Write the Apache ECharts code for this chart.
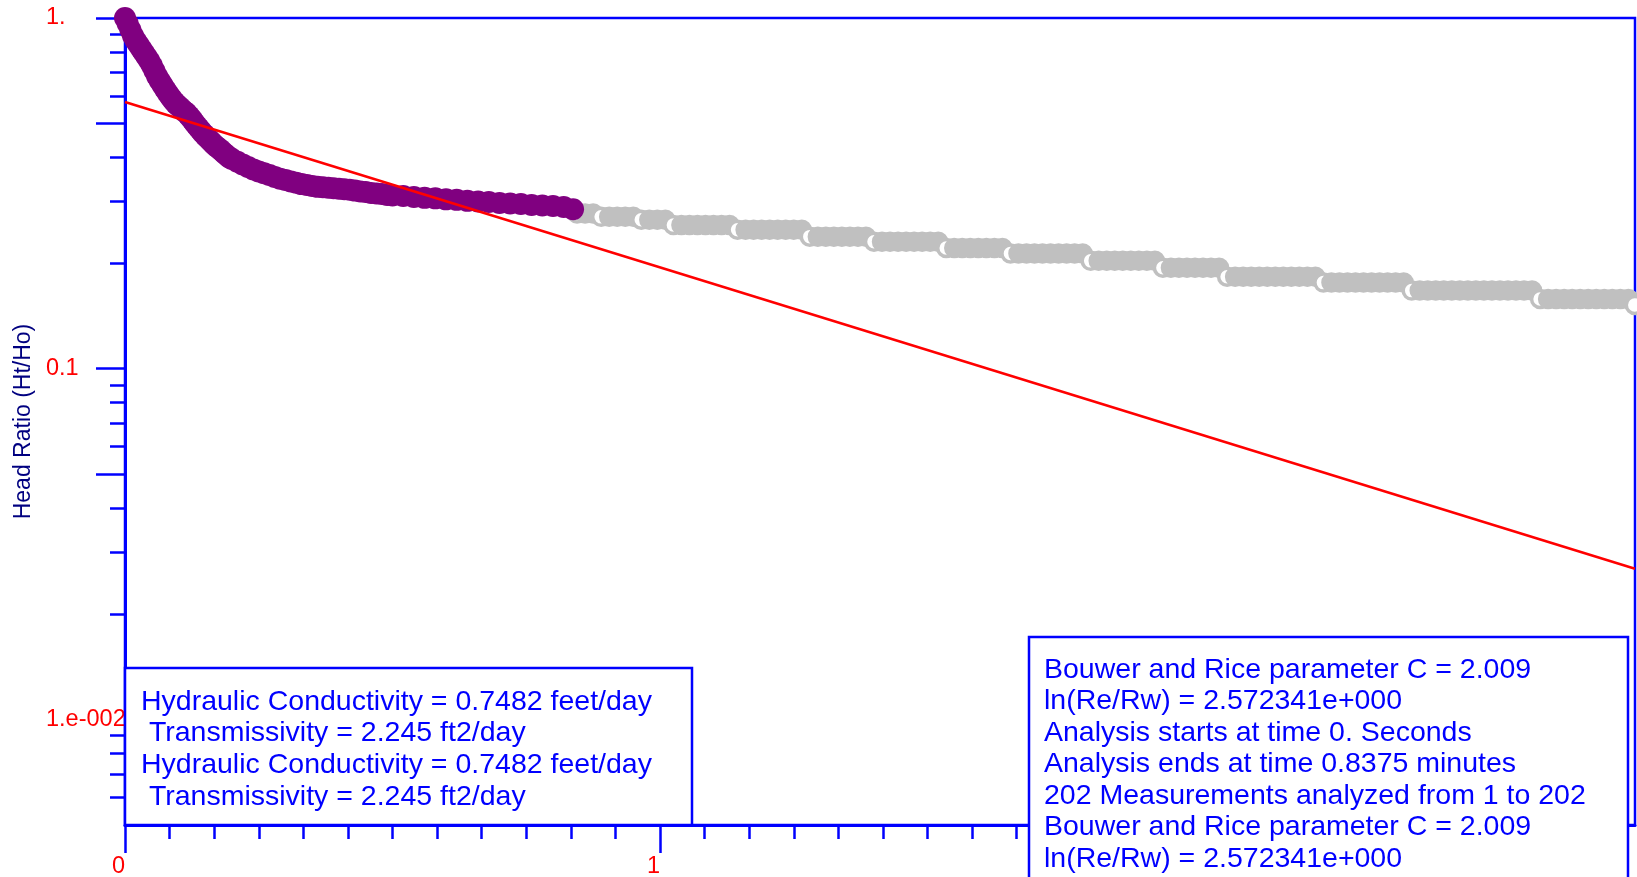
<!DOCTYPE html>
<html>
<head>
<meta charset="utf-8">
<script src="https://cdn.jsdelivr.net/npm/echarts@6/dist/echarts.min.js"></script>
<style>
  html, body { margin: 0; padding: 0; background: #fff; }
  #chart { width: 1637px; height: 877px; }
</style>
</head>
<body>
<div id="chart"></div>
<script>
// measured head ratio, time in minutes
const analyzedPoints = [
  [0.000, 1.000], [0.005, 0.965], [0.010, 0.925], [0.015, 0.890], [0.020, 0.862],
  [0.025, 0.840], [0.030, 0.818], [0.035, 0.797], [0.040, 0.777], [0.045, 0.756],
  [0.050, 0.733], [0.055, 0.707], [0.060, 0.682], [0.065, 0.662], [0.070, 0.644],
  [0.075, 0.626], [0.080, 0.610], [0.085, 0.595], [0.090, 0.582], [0.095, 0.570],
  [0.100, 0.561], [0.105, 0.552], [0.110, 0.543], [0.115, 0.536], [0.120, 0.525],
  [0.125, 0.514], [0.130, 0.502], [0.135, 0.491], [0.140, 0.481], [0.145, 0.471],
  [0.150, 0.462], [0.155, 0.454], [0.160, 0.446], [0.165, 0.438], [0.170, 0.431],
  [0.175, 0.425], [0.180, 0.419], [0.185, 0.412], [0.190, 0.406], [0.195, 0.400],
  [0.200, 0.396], [0.210, 0.389], [0.220, 0.382], [0.230, 0.376], [0.240, 0.370],
  [0.250, 0.365], [0.260, 0.361], [0.270, 0.357], [0.280, 0.352], [0.290, 0.348],
  [0.300, 0.345], [0.310, 0.342], [0.320, 0.339], [0.330, 0.336], [0.340, 0.334],
  [0.350, 0.332], [0.360, 0.330], [0.370, 0.329], [0.380, 0.328], [0.390, 0.327],
  [0.400, 0.326], [0.410, 0.325], [0.420, 0.324], [0.430, 0.322], [0.440, 0.320],
  [0.450, 0.319], [0.460, 0.317], [0.470, 0.316], [0.480, 0.315], [0.490, 0.313],
  [0.500, 0.312], [0.520, 0.311], [0.540, 0.309], [0.560, 0.307], [0.580, 0.306],
  [0.600, 0.304], [0.620, 0.303], [0.640, 0.301], [0.660, 0.300], [0.680, 0.299],
  [0.700, 0.297], [0.720, 0.296], [0.740, 0.295], [0.760, 0.293], [0.780, 0.292],
  [0.800, 0.291], [0.820, 0.289], [0.8375, 0.285]
];

const unusedPoints = [
  [0.845, 0.277], [0.860, 0.277], [0.875, 0.277],
  [0.890, 0.271], [0.905, 0.271], [0.920, 0.271], [0.935, 0.271], [0.950, 0.271],
  [0.965, 0.266], [0.980, 0.266], [0.995, 0.266], [1.010, 0.266],
  [1.025, 0.257], [1.040, 0.257], [1.055, 0.257], [1.070, 0.257], [1.085, 0.257],
  [1.100, 0.257], [1.115, 0.257], [1.130, 0.257],
  [1.145, 0.249], [1.160, 0.249], [1.175, 0.249], [1.190, 0.249], [1.205, 0.249],
  [1.220, 0.249], [1.235, 0.249], [1.250, 0.249], [1.265, 0.249],
  [1.280, 0.238], [1.295, 0.238], [1.310, 0.238], [1.325, 0.238], [1.340, 0.238],
  [1.355, 0.238], [1.370, 0.238], [1.385, 0.238],
  [1.400, 0.230], [1.415, 0.230], [1.430, 0.230], [1.445, 0.230], [1.460, 0.230],
  [1.475, 0.230], [1.490, 0.230], [1.505, 0.230], [1.520, 0.230],
  [1.535, 0.221], [1.550, 0.221], [1.565, 0.221], [1.580, 0.221], [1.595, 0.221],
  [1.610, 0.221], [1.625, 0.221], [1.640, 0.221],
  [1.655, 0.213], [1.670, 0.213], [1.685, 0.213], [1.700, 0.213], [1.715, 0.213],
  [1.730, 0.213], [1.745, 0.213], [1.760, 0.213], [1.775, 0.213], [1.790, 0.213],
  [1.805, 0.203], [1.820, 0.203], [1.835, 0.203], [1.850, 0.203], [1.865, 0.203],
  [1.880, 0.203], [1.895, 0.203], [1.910, 0.203], [1.925, 0.203],
  [1.940, 0.194], [1.955, 0.194], [1.970, 0.194], [1.985, 0.194], [2.000, 0.194],
  [2.015, 0.194], [2.030, 0.194], [2.045, 0.194],
  [2.060, 0.183], [2.075, 0.183], [2.090, 0.183], [2.105, 0.183], [2.120, 0.183],
  [2.135, 0.183], [2.150, 0.183], [2.165, 0.183], [2.180, 0.183], [2.195, 0.183],
  [2.210, 0.183], [2.225, 0.183],
  [2.240, 0.176], [2.255, 0.176], [2.270, 0.176], [2.285, 0.176], [2.300, 0.176],
  [2.315, 0.176], [2.330, 0.176], [2.345, 0.176], [2.360, 0.176], [2.375, 0.176],
  [2.390, 0.176],
  [2.405, 0.167], [2.420, 0.167], [2.435, 0.167], [2.450, 0.167], [2.465, 0.167],
  [2.480, 0.167], [2.495, 0.167], [2.510, 0.167], [2.525, 0.167], [2.540, 0.167],
  [2.555, 0.167], [2.570, 0.167], [2.585, 0.167], [2.600, 0.167], [2.615, 0.167],
  [2.630, 0.167],
  [2.645, 0.158], [2.660, 0.158], [2.675, 0.158], [2.690, 0.158], [2.705, 0.158],
  [2.720, 0.158], [2.735, 0.158], [2.750, 0.158], [2.765, 0.158], [2.780, 0.158],
  [2.795, 0.158], [2.810, 0.158],
  [2.822, 0.152]
];

// straight line fit (Bouwer and Rice)
const fitLine = [[0, 0.576], [2.8224, 0.0269]];

const xMax = 2.8224;
const xMajorTicks = [0, 1, 2];
const xLabels = ["0", "1", "2"];
const yMin = 0.005;
const yMajorTicks = [1, 0.5, 0.1, 0.05];
const yMinorTicks = [0.9, 0.8, 0.7, 0.6, 0.4, 0.3, 0.2,
  0.09, 0.08, 0.07, 0.06, 0.04, 0.03, 0.02,
  0.009, 0.008, 0.007, 0.006];
const yLabelValues = [1, 0.1, 0.01];
const yLabels = ["1.", "0.1", "1.e-002"];

const leftNote = [
  "Hydraulic Conductivity = 0.7482 feet/day",
  " Transmissivity = 2.245 ft2/day",
  "Hydraulic Conductivity = 0.7482 feet/day",
  " Transmissivity = 2.245 ft2/day",
];
const rightNote = [
  "Bouwer and Rice parameter C = 2.009",
  "ln(Re/Rw) = 2.572341e+000",
  "Analysis starts at time 0. Seconds",
  "Analysis ends at time 0.8375 minutes",
  "202 Measurements analyzed from 1 to 202",
  "Bouwer and Rice parameter C = 2.009",
  "ln(Re/Rw) = 2.572341e+000",
];

// 5 second minor ticks
const xMinorTicks = [];
for (let k = 1; k / 12 < xMax; k++) {
  if (k % 12 !== 0) xMinorTicks.push(k / 12);
}

const BLUE = "#0000ff";
const RED = "#ff0000";
const GRAY = "#c0c0c0";
const FONT = "Liberation Sans, Arial, sans-serif";

const labelFor = (values, texts) => (v) => {
  for (let i = 0; i < values.length; i++) {
    if (Math.abs(values[i] - v) < values[i] * 1e-6 + 1e-9) return texts[i];
  }
  return "";
};

// hollow marker where the level drops and on the last point, filled elsewhere
const unusedData = unusedPoints.map((p, i) => {
  const step = i === 0 || p[1] !== unusedPoints[i - 1][1];
  const last = i === unusedPoints.length - 1;
  if (step || last) return { value: p, itemStyle: { color: "#ffffff" } };
  return p;
});

const chart = echarts.init(document.getElementById("chart"), null, { renderer: "canvas" });

chart.setOption({
  animation: false,
  backgroundColor: "#fff",
  grid: {
    left: 125,
    top: 18,
    right: 2,
    bottom: 52,
    containLabel: false,
    outerBoundsMode: "none",
    show: true,
    borderColor: BLUE,
    borderWidth: 2.5,
  },
  xAxis: [
    {
      type: "value",
      min: 0,
      max: xMax,
      axisLine: { show: true, onZero: false, lineStyle: { color: BLUE, width: 3 } },
      axisTick: { show: true, customValues: xMinorTicks, length: 14, lineStyle: { color: BLUE, width: 2.5 } },
      axisLabel: { show: false },
      splitLine: { show: false },
    },
    {
      type: "value",
      min: 0,
      max: xMax,
      position: "bottom",
      axisLine: { show: false },
      axisTick: { show: true, customValues: xMajorTicks, length: 28, lineStyle: { color: BLUE, width: 2.5 } },
      axisLabel: {
        show: true,
        customValues: xMajorTicks,
        formatter: labelFor(xMajorTicks, xLabels),
        color: RED,
        fontFamily: FONT,
        fontSize: 23.5,
        lineHeight: 23.5,
        align: "right",
        margin: 30,
      },
      splitLine: { show: false },
    },
  ],
  yAxis: [
    {
      type: "log",
      logBase: 10,
      min: yMin,
      max: 1,
      name: "Head Ratio (Ht/Ho)",
      nameLocation: "middle",
      nameGap: 88,
      nameTextStyle: { color: "#000080", fontFamily: FONT, fontSize: 23 },
      axisLine: { show: true, onZero: false, lineStyle: { color: BLUE, width: 3 } },
      axisTick: { show: true, customValues: yMinorTicks, length: 15, lineStyle: { color: BLUE, width: 2.5 } },
      axisLabel: {
        show: true,
        customValues: yLabelValues,
        formatter: labelFor(yLabelValues, yLabels),
        color: RED,
        fontFamily: FONT,
        fontSize: 23.5,
        align: "left",
        margin: 79,
      },
      splitLine: { show: false },
    },
    {
      type: "log",
      logBase: 10,
      min: yMin,
      max: 1,
      position: "left",
      axisLine: { show: false },
      axisTick: { show: true, customValues: yMajorTicks, length: 29, lineStyle: { color: BLUE, width: 2.5 } },
      axisLabel: { show: false },
      splitLine: { show: false },
    },
  ],
  series: [
    {
      name: "Analyzed",
      type: "scatter",
      xAxisIndex: 0,
      yAxisIndex: 0,
      clip: false,
      symbol: "circle",
      symbolSize: 22,
      itemStyle: { color: "#800080", opacity: 1 },
      data: analyzedPoints,
      z: 3,
    },
    {
      name: "Not analyzed",
      type: "scatter",
      xAxisIndex: 0,
      yAxisIndex: 0,
      clip: false,
      symbol: "circle",
      symbolSize: 17,
      itemStyle: { color: GRAY, borderColor: GRAY, borderWidth: 3.5, opacity: 1 },
      data: unusedData,
      z: 2,
    },
    {
      name: "Fit",
      type: "line",
      xAxisIndex: 0,
      yAxisIndex: 0,
      showSymbol: false,
      symbol: "none",
      lineStyle: { color: RED, width: 2.5 },
      data: fitLine,
      z: 4,
    },
  ],
  graphic: [
    {
      type: "rect",
      z: 100,
      shape: { x: 125, y: 668, width: 567, height: 157 },
      style: { fill: "#fff", stroke: BLUE, lineWidth: 2.5 },
    },
    {
      type: "text",
      z: 101,
      x: 141,
      y: 686,
      style: {
        text: leftNote.join("\n"),
        fill: BLUE,
        font: "28.5px " + FONT,
        lineHeight: 31.7,
        textVerticalAlign: "top",
      },
    },
    {
      type: "rect",
      z: 100,
      shape: { x: 1029, y: 637, width: 599, height: 260 },
      style: { fill: "#fff", stroke: BLUE, lineWidth: 2.5 },
    },
    {
      type: "text",
      z: 101,
      x: 1044,
      y: 654,
      style: {
        text: rightNote.join("\n"),
        fill: BLUE,
        font: "28.5px " + FONT,
        lineHeight: 31.5,
        textVerticalAlign: "top",
      },
    },
  ],
});

window.addEventListener("resize", () => chart.resize());
</script>
</body>
</html>
